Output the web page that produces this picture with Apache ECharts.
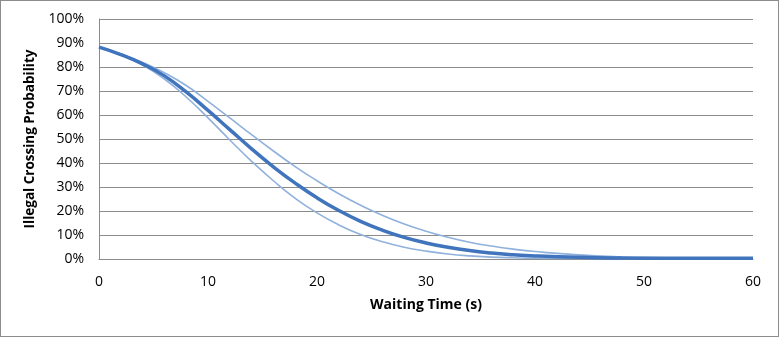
<!DOCTYPE html>
<html>
<head>
<meta charset="utf-8">
<script src="https://cdn.jsdelivr.net/npm/echarts@6/dist/echarts.min.js"></script>
<style>
  html, body { margin: 0; padding: 0; background: #fff; }
  #frame { position: absolute; left: 0; top: 0; width: 777px; height: 335px; border: 1px solid #8c8c8c; }
  #chart { width: 780px; height: 337px; position: absolute; left: 0; top: 0; }
</style>
</head>
<body>
<div id="frame"></div>
<div id="chart"></div>
<script>
// waiting time (s)
var times = [0, 2, 4, 6, 8, 10, 12, 14, 16, 18, 20, 22, 24, 26, 28, 30, 32, 34, 36, 38, 40, 44, 48, 52, 56, 60];
// illegal crossing probability (%)
var mainProb  = [88.3, 85.2, 81.3, 76.3, 69.6, 61.9, 53.9, 45.9, 38.4, 31.6, 25.5, 20.2, 15.7, 12.0, 9.0, 6.7, 4.9, 3.5, 2.5, 1.8, 1.3, 0.7, 0.4, 0.3, 0.3, 0.3];
var upperProb = [88.3, 85.4, 81.9, 77.6, 72.3, 65.7, 58.8, 51.8, 45.0, 38.5, 32.6, 27.2, 22.4, 18.2, 14.6, 11.6, 9.1, 7.0, 5.4, 4.1, 3.1, 1.7, 0.9, 0.5, 0.3, 0.2];
var lowerProb = [88.3, 85.0, 80.8, 75.0, 67.5, 58.8, 49.6, 40.7, 32.6, 25.3, 19.2, 14.2, 10.2, 7.2, 4.9, 3.3, 2.1, 1.3, 0.8, 0.5, 0.3, 0.2, 0.2, 0.2, 0.2, 0.2];

function pairs(ys) {
  return times.map(function(t, i) { return [t, ys[i]]; });
}

var chart = echarts.init(document.getElementById('chart'));
var font = '"Open Sans", sans-serif';

chart.setOption({
  animation: false,
  grid: { left: 99, right: 27, top: 19, bottom: 78 },
  xAxis: {
    type: 'value', min: 0, max: 60, interval: 10,
    name: 'Waiting Time (s)', nameLocation: 'middle', nameGap: 39,
    nameTextStyle: { fontFamily: font, fontSize: 14, fontWeight: 'bold', color: '#000' },
    axisLine: { show: true, lineStyle: { color: '#8c8c8c', width: 1 } },
    axisTick: { show: false },
    axisLabel: { fontFamily: font, fontSize: 14, color: '#000', margin: 16 },
    splitLine: { show: false }
  },
  yAxis: {
    type: 'value', min: 0, max: 100, interval: 10,
    name: 'Illegal Crossing Probability', nameLocation: 'middle', nameGap: 61,
    nameTextStyle: { fontFamily: font, fontSize: 13.5, fontWeight: 'bold', color: '#000' },
    axisLine: { show: true, lineStyle: { color: '#8c8c8c', width: 1 } },
    axisTick: { show: false },
    axisLabel: { fontFamily: font, fontSize: 14, color: '#000', margin: 15, formatter: '{value}%' },
    splitLine: { show: true, lineStyle: { color: '#8c8c8c', width: 1 } }
  },
  series: [
    { type: 'line', data: pairs(upperProb), smooth: true, showSymbol: false,
      lineStyle: { color: '#8fb1dc', width: 1.6 } },
    { type: 'line', data: pairs(lowerProb), smooth: true, showSymbol: false,
      lineStyle: { color: '#8fb1dc', width: 1.6 } },
    { type: 'line', data: pairs(mainProb), smooth: true, showSymbol: false,
      lineStyle: { color: '#4074bc', width: 3.5 } }
  ]
});
</script>
</body>
</html>
